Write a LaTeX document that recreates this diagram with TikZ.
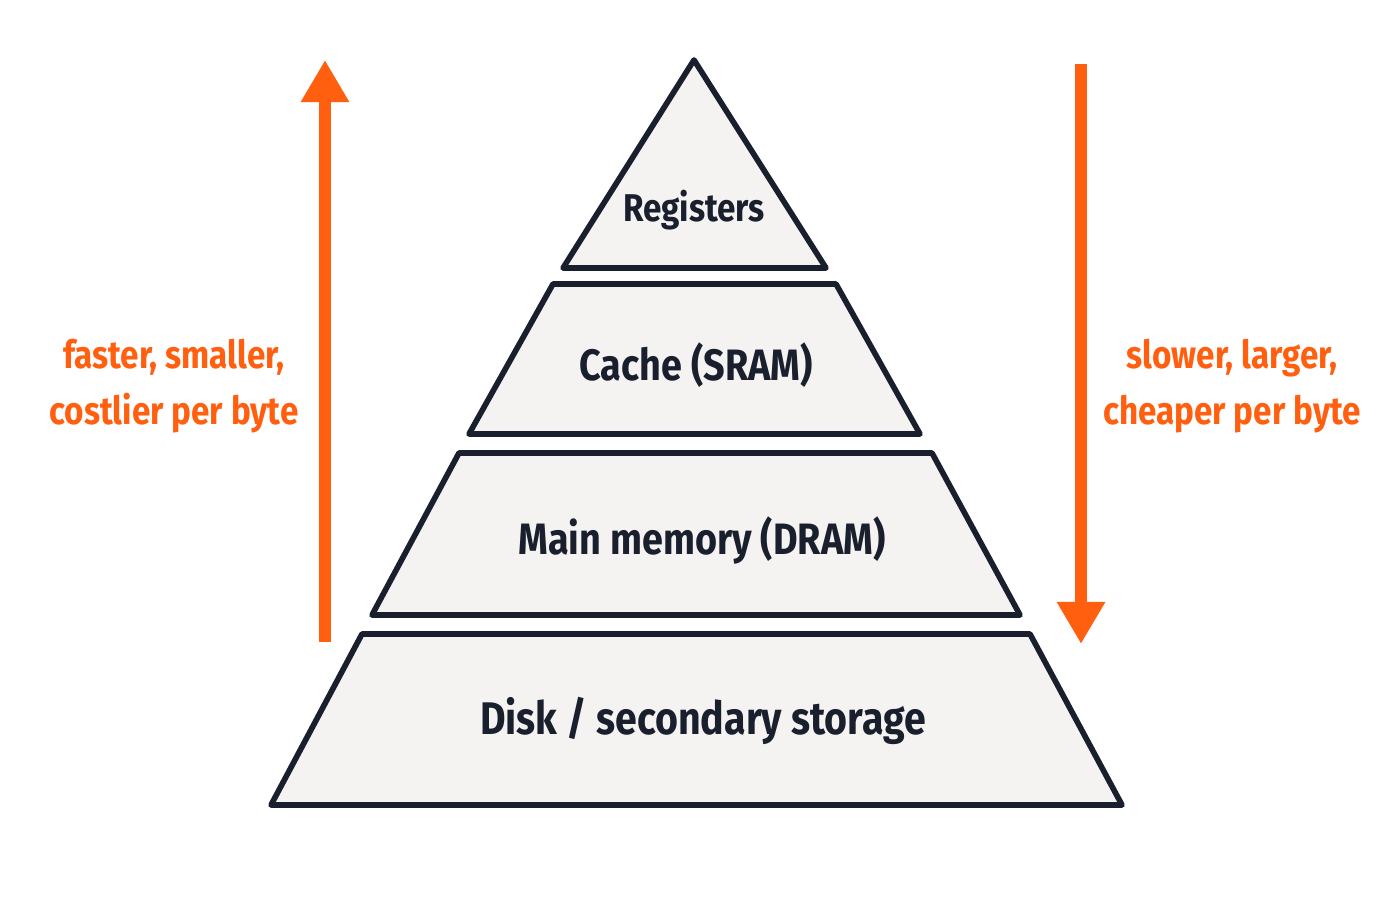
\documentclass[tikz,border=0pt]{standalone}
\usepackage{fontspec}
\setmainfont{Fira Sans}[FakeStretch=0.86]
\usetikzlibrary{arrows.meta}
\definecolor{ink}{HTML}{1A1F2E}
\definecolor{layerfill}{HTML}{F4F3F1}
\definecolor{hot}{HTML}{FF5F0F}
\tikzset{
  layer/.style={draw=ink,fill=layerfill,line width=1.6pt,line join=round},
  lbl/.style={text=ink,font=\bfseries},
  side/.style={text=hot,font=\bfseries\fontsize{11}{16}\selectfont,align=center},
  bigarrow/.style={hot,line width=3.5pt,-{Triangle[width=13pt,length=12pt]}}
}
\begin{document}
\begin{tikzpicture}[x=0.01cm,y=-0.01cm]
  \useasboundingbox (0,0) rectangle (1400,900);

  % layers, top to bottom
  \draw[layer] (694,60) -- (826,268) -- (563,268) -- cycle;
  \draw[layer] (553,284) -- (836,284) -- (920,434) -- (469,434) -- cycle;
  \draw[layer] (459,453) -- (932,453) -- (1020,615) -- (372,615) -- cycle;
  \draw[layer] (362,634) -- (1030,634) -- (1122,805) -- (271,805) -- cycle;

  \node[lbl,font=\bfseries\fontsize{11}{13}\selectfont] (reg) at (694,210) {Registers};
  \node[lbl,font=\bfseries\fontsize{12.5}{15}\selectfont] (cache) at (696,365) {Cache (SRAM)};
  \node[lbl,font=\bfseries\fontsize{12.5}{15}\selectfont] (main) at (702,540) {Main memory (DRAM)};
  \node[lbl,font=\bfseries\fontsize{13}{15}\selectfont] (disk) at (703,721) {Disk / secondary storage};

  % side arrows
  \coordinate (up bottom) at (325,642);
  \coordinate (up top) at (325,60);
  \coordinate (down top) at (1081,64);
  \coordinate (down bottom) at (1081,644);
  \draw[bigarrow] (up bottom) -- (up top);
  \draw[bigarrow] (down top) -- (down bottom);

  \node[side] (fast) at (174,386) {faster, smaller,\\costlier per byte};
  \node[side] (slow) at (1232,386) {slower, larger,\\cheaper per byte};
\end{tikzpicture}
\end{document}
